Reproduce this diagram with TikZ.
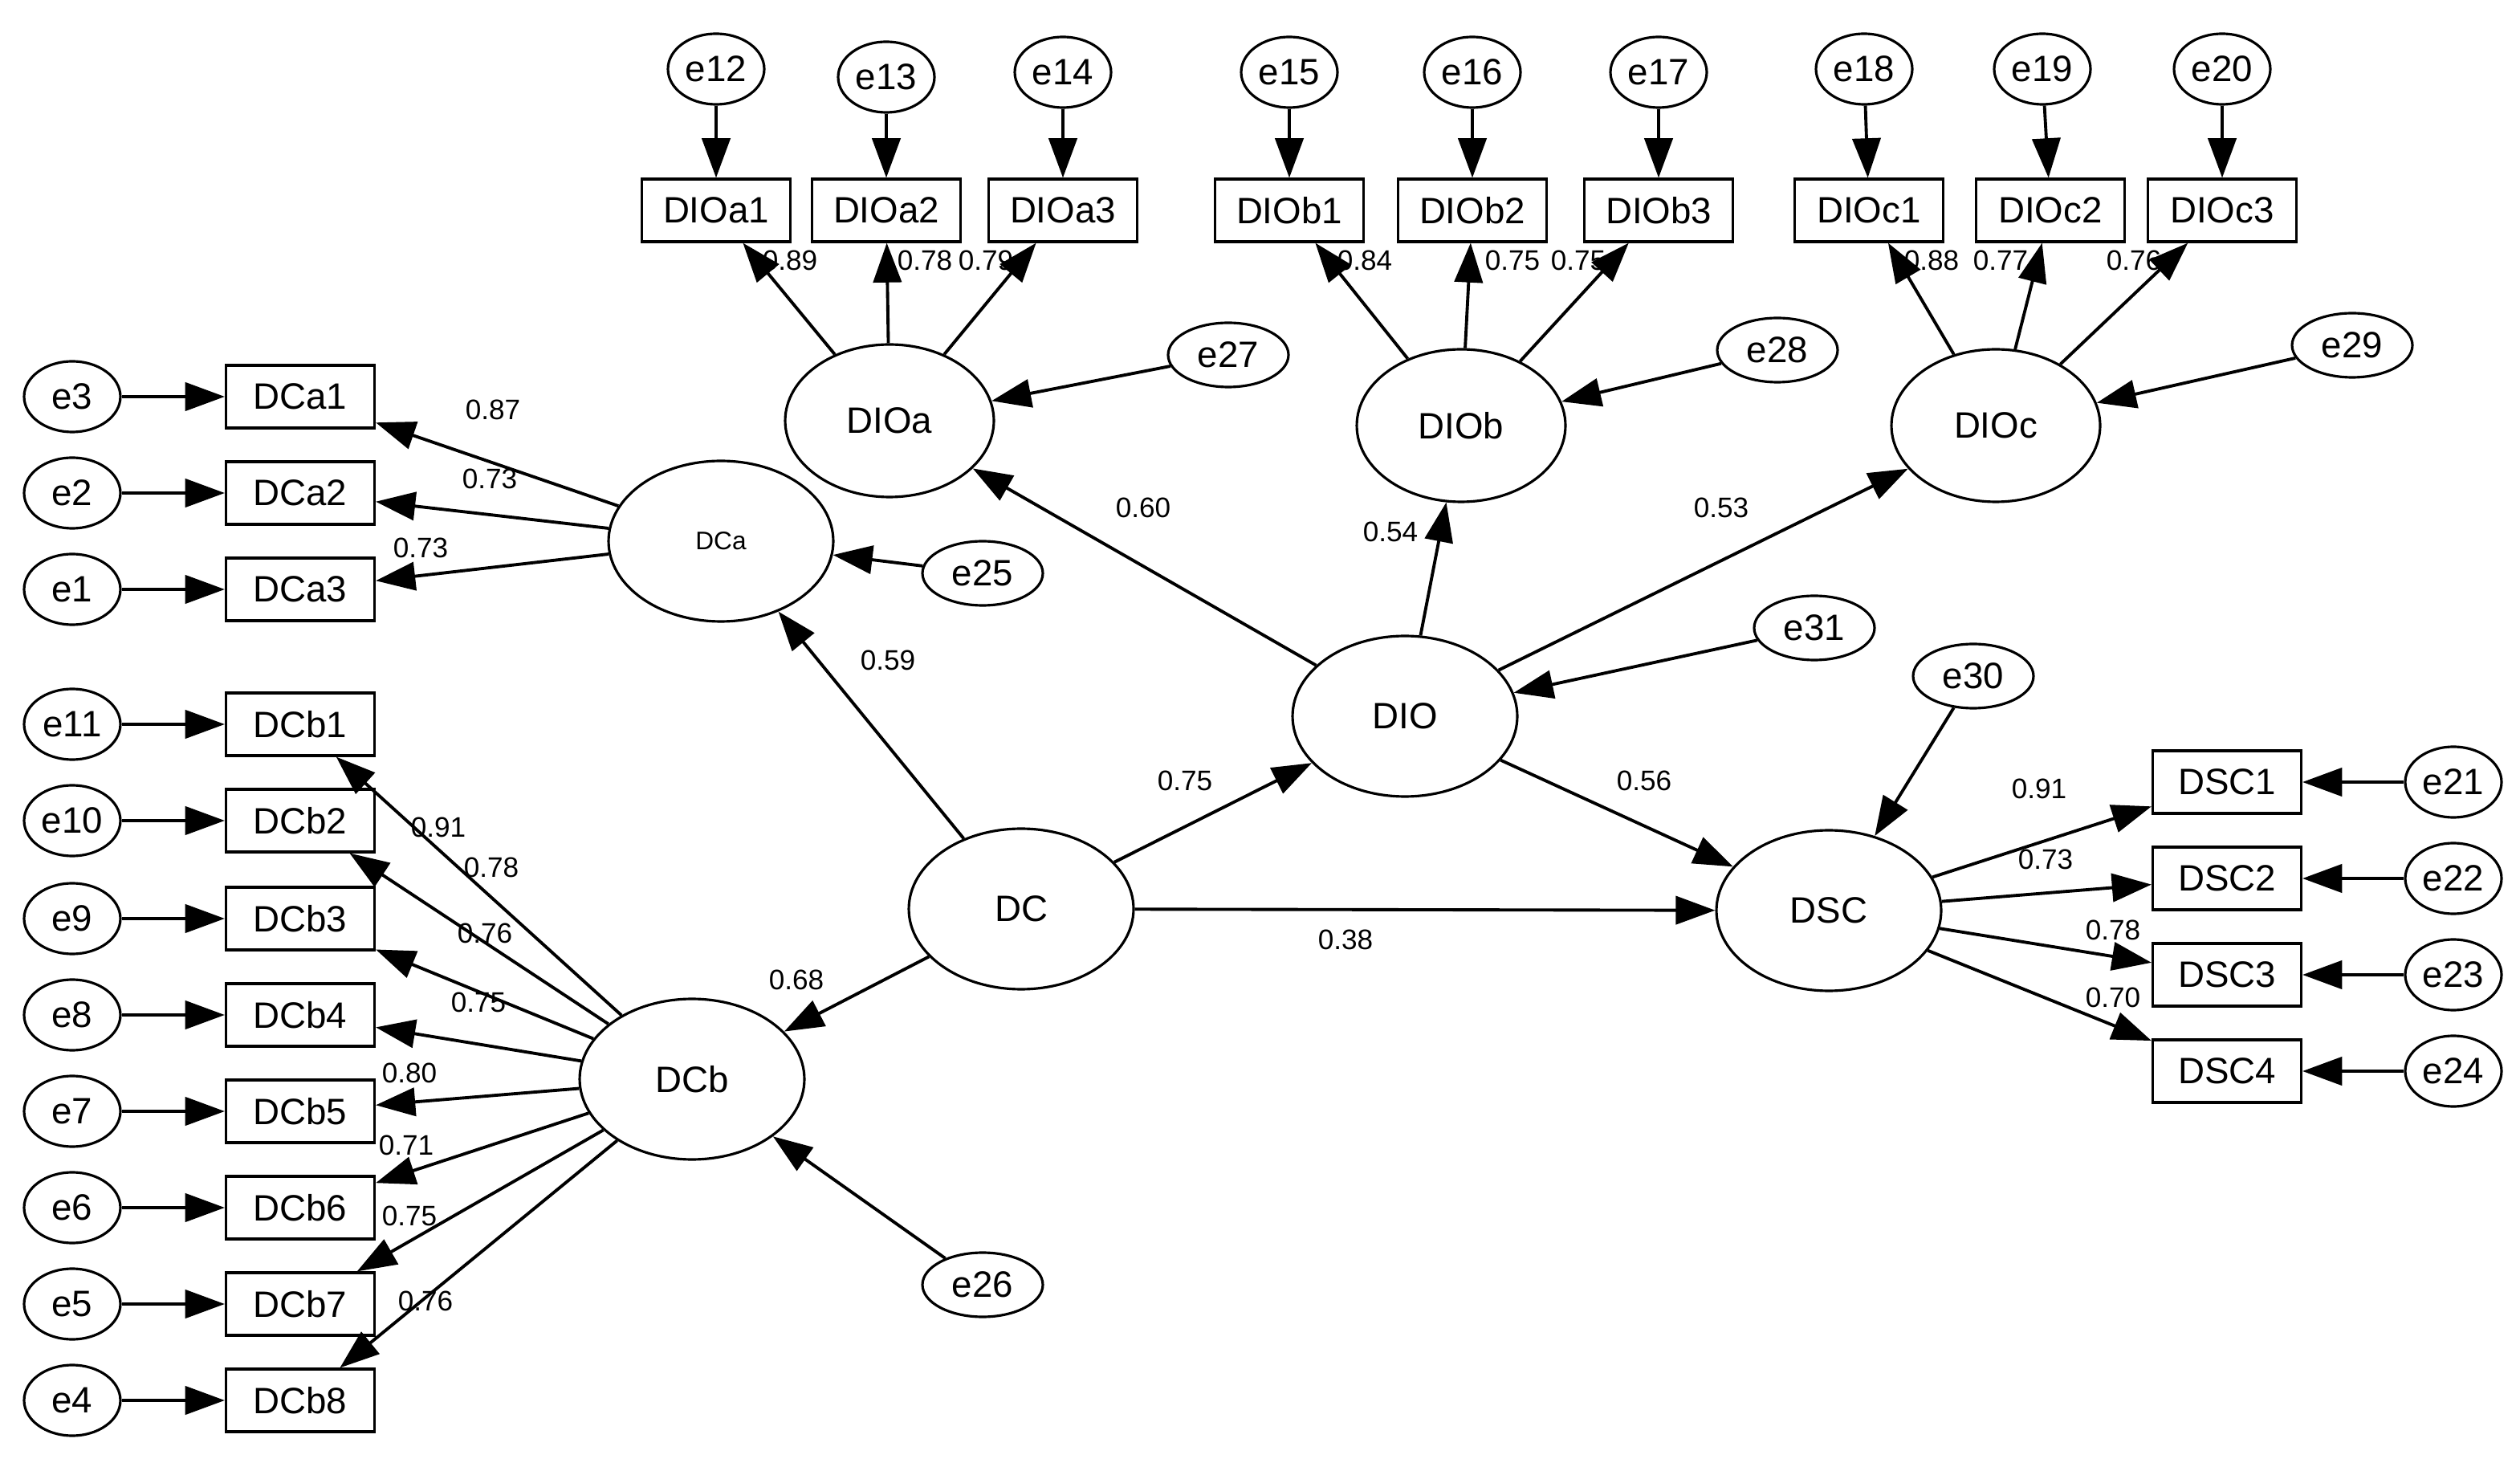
\documentclass[tikz,border=0pt]{standalone}
\usepackage{fontspec}
\setmainfont{Liberation Sans}
\usetikzlibrary{arrows.meta,shapes.geometric}
\tikzset{
  lat/.style={draw, ellipse, line width=0.9pt, minimum width=2.8cm, minimum height=2cm, font=\fontsize{13}{15}\selectfont},
  obs/.style={draw, rectangle, line width=0.9pt, minimum width=1.85cm, minimum height=0.78cm, inner sep=1pt, font=\fontsize{13}{15}\selectfont},
  err/.style={draw, ellipse, line width=0.9pt, minimum width=1.2cm, minimum height=0.88cm, inner sep=0pt, font=\fontsize{13}{15}\selectfont},
  res/.style={draw, ellipse, line width=0.9pt, minimum width=1.5cm, minimum height=0.8cm, inner sep=0pt, font=\fontsize{13}{15}\selectfont},
  arr/.style={line width=1.1pt, -{Triangle[length=14pt,width=10pt]}},
  lbl/.style={font=\fontsize{10}{12}\selectfont, inner sep=0pt}
}
\begin{document}
\begin{tikzpicture}[x=0.02cm, y=-0.02cm]
\useasboundingbox (0,0) rectangle (1569.5,911);
% latent variables
\node[lat] (DC) at (636,566) {DC};
\node[lat] (DIO) at (875,446) {DIO};
\node[lat] (DSC) at (1139,567) {DSC};
\node[lat, font=\fontsize{9}{11}\selectfont] (DCa) at (449,337) {DCa};
\node[lat] (DCb) at (431,672) {DCb};
\node[lat, minimum width=2.6cm, minimum height=1.9cm] (DIOa) at (554,262) {DIOa};
\node[lat, minimum width=2.6cm, minimum height=1.9cm] (DIOb) at (910,265) {DIOb};
\node[lat, minimum width=2.6cm, minimum height=1.9cm] (DIOc) at (1243,265) {DIOc};
% residuals
\node[res] (e25) at (612,357) {e25};
\node[res] (e26) at (612,800) {e26};
\node[res] (e27) at (765,221) {e27};
\node[res] (e28) at (1107,218) {e28};
\node[res] (e29) at (1465,215) {e29};
\node[res] (e30) at (1229,421) {e30};
\node[res] (e31) at (1130,391) {e31};
\draw[arr] (e25) -- (DCa);
\draw[arr] (e26) -- (DCb);
\draw[arr] (e27) -- (DIOa);
\draw[arr] (e28) -- (DIOb);
\draw[arr] (e29) -- (DIOc);
\draw[arr] (e30) -- (DSC);
\draw[arr] (e31) -- (DIO);
% DCa indicators
\foreach \i/\e/\y/\l/\lx/\ly in {1/3/247/0.87/307/255, 2/2/307/0.73/305/298, 3/1/367/0.73/262/341} {
  \node[obs] (DCa\i) at (187,\y) {DCa\i};
  \node[err] (e\e) at (45,\y) {e\e};
  \draw[arr] (e\e) -- (DCa\i);
  \draw[arr] (DCa) -- (DCa\i);
  \node[lbl] at (\lx,\ly) {\l};
}
% DCb indicators
\foreach \i/\e/\y/\l/\lx/\ly in {1/11/451/0.91/273/515, 2/10/511/0.78/306/540, 3/9/572/0.76/302/581, 4/8/632/0.75/298/624, 5/7/692/0.80/255/668, 6/6/752/0.71/253/713, 7/5/812/0.75/255/757, 8/4/872/0.76/265/810} {
  \node[obs] (DCb\i) at (187,\y) {DCb\i};
  \node[err] (e\e) at (45,\y) {e\e};
  \draw[arr] (e\e) -- (DCb\i);
  \draw[arr] (DCb) -- (DCb\i);
  \node[lbl] at (\lx,\ly) {\l};
}
% DIO indicators
\foreach \v/\i/\e/\x/\ex/\ey/\l/\lx in {a/1/12/446/446/43/0.89/492, a/2/13/552/552/48/0.78/576, a/3/14/662/662/45/0.79/614,
  b/1/15/803/803/45/0.84/850, b/2/16/917/917/45/0.75/942, b/3/17/1033/1033/45/0.75/983,
  c/1/18/1164/1161/43/0.88/1203, c/2/19/1277/1272/43/0.77/1246, c/3/20/1384/1384/43/0.76/1329} {
  \node[obs] (DIO\v\i) at (\x,131) {DIO\v\i};
  \node[err] (e\e) at (\ex,\ey) {e\e};
  \draw[arr] (e\e) -- (DIO\v\i);
  \draw[arr] (DIO\v) -- (DIO\v\i);
  \node[lbl] at (\lx,162) {\l};
}
% DSC indicators
\foreach \i/\e/\y/\l/\lx/\ly in {1/21/487/0.91/1270/491, 2/22/547/0.73/1274/535, 3/23/607/0.78/1316/579, 4/24/667/0.70/1316/621} {
  \node[obs] (DSC\i) at (1387,\y) {DSC\i};
  \node[err] (e\e) at (1528,\y) {e\e};
  \draw[arr] (e\e) -- (DSC\i);
  \draw[arr] (DSC) -- (DSC\i);
  \node[lbl] at (\lx,\ly) {\l};
}
% structural paths
\draw[arr] (DC) -- (DCa);
\draw[arr] (DC) -- (DCb);
\draw[arr] (DC) -- (DIO);
\draw[arr] (DC) -- (DSC);
\draw[arr] (DIO) -- (DSC);
\draw[arr] (DIO) -- (DIOa);
\draw[arr] (DIO) -- (DIOb);
\draw[arr] (DIO) -- (DIOc);
\node[lbl] at (553,411) {0.59};
\node[lbl] at (496,610) {0.68};
\node[lbl] at (738,486) {0.75};
\node[lbl] at (838,585) {0.38};
\node[lbl] at (1024,486) {0.56};
\node[lbl] at (712,316) {0.60};
\node[lbl] at (866,331) {0.54};
\node[lbl] at (1072,316) {0.53};
\end{tikzpicture}
\end{document}
